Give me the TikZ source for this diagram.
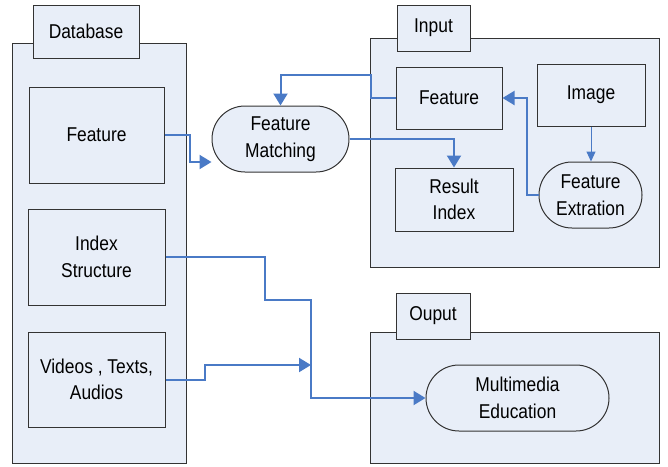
\documentclass[tikz,border=0pt]{standalone}
\usepackage{fontspec}
\setmainfont[FakeStretch=0.87]{Liberation Sans}
\usetikzlibrary{arrows.meta,shapes.misc}
\definecolor{panelfill}{HTML}{E8EEF8}
\definecolor{flowblue}{HTML}{4A7AC6}
\begin{document}
\begin{tikzpicture}[x=1pt, y=-1pt, line join=miter, >={Triangle[length=12pt,width=14pt]}]
		\tikzset{panel/.style={draw=black!80, line width=1pt, fill=panelfill, inner sep=0pt},
			box/.style={panel, align=center, font=\fontsize{20}{26.6}\selectfont},
			pill/.style={box, rounded rectangle},
			flow/.style={draw=flowblue, line width=2pt, ->},
			thinflow/.style={draw=flowblue, line width=1pt, -{Triangle[length=10pt,width=9pt]}}}
		\useasboundingbox (0,0) rectangle (668,466);
		% containers
		\node[panel, minimum width=174pt, minimum height=420pt] (db) at (99,253) {};
		\node[panel, minimum width=289pt, minimum height=229pt] (in) at (514.5,152.5) {};
		\node[panel, minimum width=289pt, minimum height=131pt] (out) at (514.5,397.5) {};
		% tabs
		\node[box, minimum width=106pt, minimum height=53pt] (dbtab) at (86,31.5) {Database};
		\node[box, minimum width=73pt, minimum height=46pt] (intab) at (433.5,28) {Input};
		\node[box, minimum width=74pt, minimum height=46pt] (outtab) at (433,316) {Ouput};
		% database
		\node[box, minimum width=135pt, minimum height=96pt] (dbfeat) at (96.5,135) {Feature};
		\node[box, minimum width=137pt, minimum height=96pt] (idx) at (96.5,257) {Index\\Structure};
		\node[box, minimum width=137pt, minimum height=95pt] (media) at (96.5,379.5) {Videos , Texts,\\Audios};
		\node[pill, minimum width=137pt, minimum height=66pt] (match) at (280.5,139) {Feature\\Matching};
		% input
		\node[box, minimum width=106pt, minimum height=62pt] (infeat) at (449,98) {Feature};
		\node[box, minimum width=108pt, minimum height=62pt] (image) at (591,95) {Image};
		\node[box, minimum width=118pt, minimum height=63pt] (result) at (454,199.5) {Result\\Index};
		\node[pill, minimum width=103pt, minimum height=66pt] (extract) at (590.5,195) {Feature\\Extration};
		% output
		\node[pill, minimum width=183pt, minimum height=66pt] (edu) at (517.5,398) {Multimedia\\Education};
		\coordinate (bend) at (311,300);
		\coordinate (join) at (311,365);
		% connectors
		\draw[flow] (dbfeat.east) -- ++(25,0) |- ([yshift=-23pt]match.west);
		\draw[flow] (infeat.west) -- ++(-25,0) -- ++(0,-23) -| (match.north);
		\draw[flow] (match.east) -| (result.north);
		\draw[thinflow] (image.south) -- (image.south |- extract.north);
		\draw[flow] (extract.west) -- ++(-12,0) |- (infeat.east);
		\draw[flow] (idx.east) -- ++(99,0) |- (bend) |- (edu.west);
		\draw[flow] (media.east) -- ++(39,0) |- (join);
\end{tikzpicture}
\end{document}
